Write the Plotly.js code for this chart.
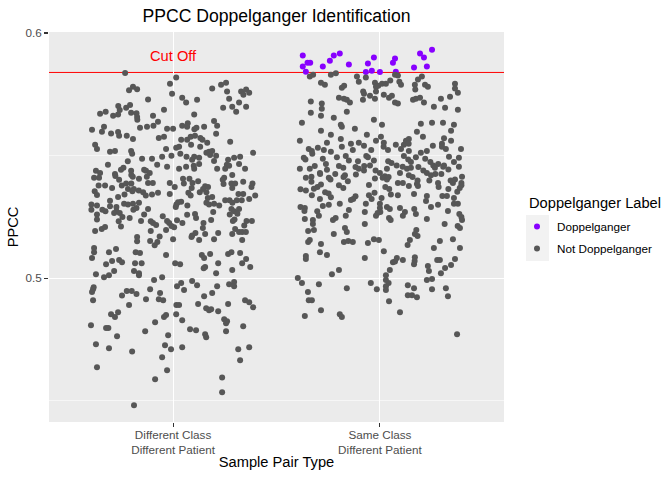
<!DOCTYPE html>
<html><head><meta charset="utf-8">
<script src="https://cdn.plot.ly/plotly-3.0.1.min.js"></script>
<style>html,body{margin:0;padding:0;background:#fff}</style>
</head><body><div id="chart" style="width:672px;height:480px"></div>
<script>
// categories and labels
const categories = ["Different Class<br>Different Patient", "Same Class<br>Different Patient"];
const categoryPositions = [1, 2];
const seriesNames = ["Doppelganger", "Not Doppelganger"];
const yTickValues = [0.5, 0.6];
const yTickLabels = ["0.5", "0.6"];
const cutOff = 0.5839;

// [jittered x position, PPCC]
const diffClassNotDoppel = [
[0.768,0.5837],[1.015,0.5818],[0.985,0.5793],[0.806,0.5781],[0.787,0.5766],[0.826,0.5770],[0.995,0.5752],[0.879,0.5729],[1.044,0.5736],[1.063,0.5716],
[1.116,0.5728],[1.189,0.5773],[1.232,0.5789],[1.256,0.5797],[1.261,0.5761],[1.329,0.5761],[1.340,0.5748],[1.353,0.5769],[1.368,0.5756],[1.271,0.5732],
[1.242,0.5695],[1.286,0.5699],[1.319,0.5716],[1.353,0.5699],[1.305,0.5679],[0.735,0.5702],[0.742,0.5686],[0.773,0.5695],[0.792,0.5706],[0.674,0.5679],
[0.647,0.5671],[0.710,0.5662],[0.734,0.5667],[0.797,0.5675],[0.823,0.5673],[0.826,0.5657],[0.827,0.5646],[0.956,0.5687],[0.903,0.5662],[1.102,0.5667],
[1.198,0.5641],[1.213,0.5622],[0.608,0.5605],[0.666,0.5617],[0.656,0.5597],[0.700,0.5590],[0.734,0.5596],[0.739,0.5581],[0.776,0.5581],[0.806,0.5568],
[0.840,0.5613],[0.874,0.5617],[0.905,0.5622],[0.927,0.5638],[0.971,0.5609],[1.000,0.5609],[1.044,0.5622],[1.071,0.5632],[1.068,0.5617],[1.103,0.5607],
[1.113,0.5613],[1.150,0.5617],[1.208,0.5589],[0.931,0.5572],[0.956,0.5577],[1.039,0.5564],[1.068,0.5564],[1.085,0.5577],[1.106,0.5581],[1.132,0.5572],
[1.142,0.5564],[1.165,0.5552],[1.276,0.5556],[0.623,0.5544],[0.632,0.5527],[0.695,0.5515],[0.719,0.5519],[0.797,0.5519],[0.802,0.5507],[0.966,0.5527],
[1.015,0.5532],[1.029,0.5536],[1.087,0.5544],[1.131,0.5536],[1.174,0.5515],[1.161,0.5511],[1.189,0.5519],[1.179,0.5502],[1.208,0.5499],[1.387,0.5511],
[1.324,0.5495],[1.295,0.5491],[1.266,0.5483],[0.947,0.5495],[0.992,0.5499],[1.035,0.5507],[1.065,0.5495],[1.102,0.5495],[1.126,0.5491],[1.092,0.5483],
[1.198,0.5478],[0.850,0.5487],[0.898,0.5487],[0.781,0.5477],[0.685,0.5462],[0.923,0.5462],[0.971,0.5454],[1.126,0.5466],[1.100,0.5458],[1.063,0.5454],
[1.029,0.5446],[1.102,0.5446],[1.213,0.5446],[1.260,0.5462],[1.271,0.5458],[1.252,0.5446],[1.319,0.5466],[1.348,0.5446],[0.760,0.5450],[0.748,0.5442],
[0.797,0.5438],[0.860,0.5442],[0.869,0.5438],[0.627,0.5438],[0.647,0.5429],[0.719,0.5425],[0.721,0.5417],[0.798,0.5421],[0.805,0.5413],[0.835,0.5405],
[0.887,0.5429],[0.618,0.5409],[0.642,0.5409],[0.739,0.5401],[0.873,0.5413],[1.048,0.5405],[1.079,0.5405],[1.247,0.5409],[1.240,0.5401],[1.286,0.5421],
[0.640,0.5378],[0.671,0.5378],[0.705,0.5368],[0.752,0.5378],[0.773,0.5386],[0.798,0.5386],[0.782,0.5364],[0.810,0.5364],[0.879,0.5388],[0.902,0.5388],
[0.984,0.5388],[1.008,0.5372],[1.052,0.5386],[1.094,0.5388],[1.121,0.5395],[1.090,0.5368],[1.155,0.5375],[1.145,0.5364],[1.169,0.5372],[1.244,0.5384],
[1.282,0.5386],[1.300,0.5386],[1.339,0.5393],[1.384,0.5386],[1.379,0.5372],[1.286,0.5368],[0.621,0.5354],[0.632,0.5339],[0.734,0.5331],[0.765,0.5341],
[0.803,0.5354],[0.834,0.5357],[0.855,0.5350],[0.868,0.5337],[0.898,0.5341],[0.927,0.5348],[0.984,0.5343],[1.074,0.5348],[1.085,0.5337],[1.129,0.5350],
[1.161,0.5350],[1.189,0.5331],[1.168,0.5327],[1.161,0.5307],[1.198,0.5303],[1.252,0.5318],[1.273,0.5318],[1.287,0.5307],[1.308,0.5318],[1.332,0.5318],
[1.316,0.5343],[1.339,0.5343],[1.368,0.5323],[1.397,0.5337],[0.605,0.5300],[0.605,0.5279],[0.632,0.5296],[0.658,0.5279],[0.673,0.5273],[0.695,0.5316],
[0.695,0.5293],[0.726,0.5290],[0.726,0.5273],[0.763,0.5303],[0.782,0.5300],[0.806,0.5303],[0.808,0.5279],[0.835,0.5307],[0.823,0.5286],[0.879,0.5282],
[1.016,0.5300],[1.024,0.5309],[1.039,0.5311],[1.069,0.5296],[1.013,0.5290],[1.174,0.5300],[1.223,0.5296],[1.282,0.5282],[1.295,0.5273],[1.319,0.5282],
[1.311,0.5263],[0.632,0.5259],[0.632,0.5239],[0.715,0.5266],[0.742,0.5266],[0.755,0.5249],[0.790,0.5245],[0.737,0.5232],[0.748,0.5211],[0.860,0.5259],
[0.845,0.5233],[0.892,0.5232],[0.903,0.5225],[0.918,0.5217],[0.950,0.5252],[0.971,0.5233],[0.981,0.5225],[1.019,0.5236],[1.045,0.5225],[1.068,0.5258],
[1.106,0.5262],[1.111,0.5245],[1.184,0.5237],[1.194,0.5270],[1.274,0.5259],[1.289,0.5233],[1.297,0.5239],[1.355,0.5233],[1.381,0.5233],[1.344,0.5215],
[1.147,0.5225],[1.144,0.5204],[1.005,0.5207],[0.992,0.5213],[0.623,0.5192],[0.655,0.5200],[0.671,0.5209],[0.826,0.5168],[0.826,0.5150],[0.892,0.5192],
[0.966,0.5196],[0.889,0.5151],[0.911,0.5134],[0.924,0.5147],[0.935,0.5170],[1.000,0.5159],[1.092,0.5174],[1.089,0.5168],[1.108,0.5184],[1.155,0.5180],
[1.126,0.5155],[1.198,0.5159],[1.218,0.5184],[1.286,0.5180],[1.300,0.5200],[1.319,0.5188],[1.334,0.5188],[1.352,0.5188],[1.334,0.5155],[0.618,0.5123],
[0.618,0.5106],[0.608,0.5082],[0.690,0.5106],[0.724,0.5119],[0.676,0.5057],[0.705,0.5070],[0.739,0.5074],[0.753,0.5065],[0.819,0.5106],[0.840,0.5102],
[0.816,0.5061],[0.848,0.5061],[0.966,0.5094],[1.010,0.5061],[1.034,0.5057],[1.139,0.5094],[1.150,0.5082],[1.179,0.5098],[1.218,0.5061],[1.266,0.5098],
[1.282,0.5106],[1.324,0.5102],[1.353,0.5078],[1.334,0.5061],[1.373,0.5045],[0.627,0.5016],[0.666,0.5004],[0.690,0.5012],[0.715,0.5029],[0.811,0.5029],
[0.835,0.5020],[0.835,0.5012],[0.908,0.4992],[0.947,0.5004],[1.155,0.5045],[1.148,0.5040],[1.208,0.5020],[1.286,0.5033],[0.616,0.4963],[0.613,0.4955],
[0.608,0.4943],[0.776,0.4947],[0.800,0.4947],[0.823,0.4935],[0.889,0.4955],[0.937,0.4939],[1.019,0.4967],[1.039,0.4980],[1.053,0.4951],[1.092,0.4988],
[1.116,0.4971],[1.213,0.4967],[1.271,0.4975],[1.295,0.4984],[1.295,0.4967],[1.189,0.4939],
[0.613,0.4910],[0.753,0.4929],[0.869,0.4914],[0.931,0.4914],[0.952,0.4910],[1.150,0.4926],[1.348,0.4910],[1.368,0.4902],[1.387,0.4881],[0.787,0.4890],
[1.016,0.4890],[1.029,0.4890],[1.121,0.4894],[1.160,0.4877],[1.174,0.4869],[1.184,0.4873],[1.218,0.4865],[1.266,0.4894],[0.700,0.4853],[0.719,0.4841],
[0.734,0.4861],[0.956,0.4841],[0.966,0.4849],[1.015,0.4853],[1.044,0.4828],[0.913,0.4820],[0.603,0.4808],[0.676,0.4796],[0.687,0.4796],[0.729,0.4763],
[0.865,0.4783],[0.976,0.4767],[1.082,0.4791],[1.111,0.4787],[1.155,0.4771],[1.160,0.4759],[1.247,0.4832],[1.261,0.4824],[1.256,0.4816],[1.256,0.4783],
[1.339,0.4804],[0.627,0.4730],[0.690,0.4714],[0.802,0.4701],[0.961,0.4726],[0.990,0.4710],[1.044,0.4718],[1.315,0.4710],[1.368,0.4718],[0.947,0.4677],
[1.324,0.4665],[0.632,0.4636],[0.971,0.4624],[0.913,0.4587],[1.237,0.4595],[1.237,0.4534],[0.811,0.4481]
];

const sameClassNotDoppel = [
[1.661,0.5822],[1.677,0.5830],[1.763,0.5830],[1.787,0.5836],[1.889,0.5822],[1.898,0.5801],[1.932,0.5818],[1.715,0.5797],[1.734,0.5789],[1.816,0.5777],
[1.827,0.5785],[1.976,0.5797],[1.981,0.5781],[1.992,0.5785],[2.010,0.5793],[2.029,0.5793],[2.050,0.5806],[2.073,0.5830],[2.087,0.5827],[2.094,0.5801],
[2.102,0.5789],[2.169,0.5789],[2.171,0.5769],[2.184,0.5810],[2.203,0.5822],[2.218,0.5789],[2.232,0.5781],[2.363,0.5793],[2.363,0.5773],[2.377,0.5756],
[1.919,0.5761],[1.923,0.5752],[1.981,0.5761],[1.952,0.5744],[1.918,0.5728],[1.976,0.5732],[2.019,0.5748],[2.044,0.5736],[2.058,0.5744],[2.073,0.5716],
[2.087,0.5712],[2.160,0.5728],[2.174,0.5732],[2.194,0.5736],[2.213,0.5716],[2.295,0.5732],[2.339,0.5740],[1.666,0.5720],[1.719,0.5712],[1.719,0.5691],
[1.802,0.5736],[1.826,0.5732],[1.840,0.5728],[1.855,0.5716],[1.666,0.5675],[1.715,0.5662],[1.777,0.5654],[1.840,0.5679],[2.261,0.5699],[2.315,0.5695],
[2.377,0.5687],[1.623,0.5634],[1.811,0.5626],[1.816,0.5617],[1.971,0.5646],[2.010,0.5626],[1.879,0.5609],[1.715,0.5601],[1.763,0.5585],[1.937,0.5585],
[2.005,0.5577],[2.198,0.5630],[2.252,0.5634],[2.305,0.5634],[2.358,0.5626],[2.179,0.5597],[2.208,0.5577],[2.344,0.5601],[2.310,0.5571],[1.613,0.5560],
[1.744,0.5552],[1.811,0.5568],[1.860,0.5548],[1.898,0.5552],[1.923,0.5540],[1.981,0.5560],[2.019,0.5552],[2.018,0.5536],[2.039,0.5523],[2.077,0.5544],
[2.102,0.5527],[2.116,0.5544],[2.126,0.5560],[2.140,0.5568],[2.139,0.5548],[2.140,0.5519],[2.256,0.5540],[2.300,0.5548],[2.300,0.5536],[2.319,0.5527],
[2.344,0.5560],[2.392,0.5527],[1.656,0.5527],[1.671,0.5519],[1.673,0.5507],[1.700,0.5532],[1.729,0.5523],[1.763,0.5515],[1.816,0.5536],[1.869,0.5523],
[1.958,0.5523],[2.198,0.5511],[2.227,0.5519],
[1.632,0.5491],[1.640,0.5484],[1.724,0.5487],[1.792,0.5493],[1.835,0.5498],[1.850,0.5480],[1.894,0.5477],[1.934,0.5498],[1.942,0.5493],[1.971,0.5480],
[2.040,0.5477],[2.056,0.5470],[2.116,0.5498],[2.137,0.5484],[2.150,0.5474],[2.174,0.5493],[2.219,0.5487],[2.244,0.5474],[2.258,0.5459],[2.282,0.5466],
[2.310,0.5459],[2.334,0.5495],[2.382,0.5491],[2.358,0.5474],[1.613,0.5446],[1.661,0.5446],[1.685,0.5457],[1.710,0.5429],[1.739,0.5466],[1.744,0.5442],
[1.784,0.5425],[1.802,0.5457],[1.823,0.5450],[1.831,0.5420],[1.882,0.5453],[1.898,0.5446],[1.884,0.5423],[1.924,0.5457],[1.952,0.5459],[1.923,0.5439],
[1.979,0.5439],[2.000,0.5429],[2.024,0.5416],[2.034,0.5446],[2.081,0.5459],[2.110,0.5454],[2.097,0.5429],[2.131,0.5446],[2.150,0.5450],[2.186,0.5453],
[2.210,0.5439],[2.227,0.5429],[2.266,0.5450],[2.306,0.5454],[2.331,0.5443],[2.382,0.5454],[1.642,0.5409],[1.669,0.5413],[1.669,0.5393],[1.711,0.5425],
[1.753,0.5409],[1.761,0.5402],[1.824,0.5412],[1.845,0.5395],[1.976,0.5406],[2.013,0.5409],[2.034,0.5402],[2.042,0.5412],[2.087,0.5388],[2.111,0.5388],
[2.140,0.5420],[2.158,0.5412],[2.182,0.5398],[2.179,0.5384],[2.239,0.5398],[2.247,0.5420],[2.268,0.5425],[2.297,0.5425],[2.281,0.5388],[2.284,0.5372],
[2.342,0.5398],[2.353,0.5388],[2.363,0.5402],[2.397,0.5413],[2.394,0.5388],[1.616,0.5363],[1.642,0.5357],[1.681,0.5365],[1.698,0.5372],[1.715,0.5382],
[1.671,0.5338],[1.710,0.5323],[1.735,0.5350],[1.752,0.5345],[1.763,0.5330],[1.802,0.5379],[1.823,0.5368],[1.947,0.5380],[1.947,0.5338],[1.960,0.5323],
[1.974,0.5348],[2.008,0.5327],[2.026,0.5372],[2.045,0.5364],[2.053,0.5341],[2.087,0.5338],[2.140,0.5376],[2.165,0.5343],[2.184,0.5376],[2.227,0.5335],
[2.223,0.5315],[2.302,0.5335],[2.324,0.5335],[2.358,0.5327],[2.374,0.5352],[2.386,0.5368],[2.394,0.5379],[2.331,0.5364],[1.616,0.5290],[1.637,0.5286],
[1.635,0.5274],[1.697,0.5273],[1.724,0.5294],[1.753,0.5299],[1.806,0.5303],[1.850,0.5278],[1.860,0.5319],[1.882,0.5334],[1.871,0.5323],[1.932,0.5303],
[1.927,0.5270],[2.000,0.5303],[2.000,0.5286],[2.002,0.5270],[2.034,0.5290],[2.048,0.5282],[2.097,0.5286],[2.121,0.5270],[2.111,0.5254],[2.166,0.5282],
[2.247,0.5290],[2.281,0.5299],[2.358,0.5303],[2.377,0.5303],[2.329,0.5274],[2.384,0.5262],[2.394,0.5249],[2.397,0.5237],[1.637,0.5241],[1.676,0.5237],
[1.676,0.5221],[1.705,0.5254],[1.773,0.5237],[1.786,0.5245],[1.835,0.5254],[1.981,0.5254],[1.989,0.5266],[2.044,0.5245],[2.052,0.5237],[2.174,0.5262],
[2.227,0.5241],[1.927,0.5221],[1.653,0.5192],[1.681,0.5196],[1.777,0.5180],[1.831,0.5204],[1.840,0.5188],[2.176,0.5196],[2.169,0.5180],[2.182,0.5172],
[2.313,0.5221],[2.376,0.5213],[2.387,0.5204],[1.653,0.5147],[1.661,0.5155],[1.715,0.5139],[1.826,0.5147],[1.847,0.5151],[1.869,0.5147],[1.942,0.5143],
[1.971,0.5159],[1.995,0.5155],[2.145,0.5155],[2.134,0.5135],[2.290,0.5151],[2.353,0.5159],[2.261,0.5123],[2.387,0.5123],[1.710,0.5106],[1.744,0.5094],
[1.642,0.5090],[1.642,0.5078],[1.927,0.5082],[2.019,0.5110],[2.063,0.5065],[2.082,0.5082],[2.073,0.5068],[2.111,0.5074],[2.169,0.5085],[2.165,0.5057],
[2.168,0.5070],[2.277,0.5074],[2.290,0.5074],[2.363,0.5078],[2.344,0.5053],
[1.802,0.5033],[1.768,0.5016],[1.603,0.5000],[1.623,0.4980],[1.705,0.4975],[1.652,0.4943],[1.656,0.4910],[1.671,0.4910],[1.715,0.4869],[1.637,0.4845],
[1.806,0.4853],[1.816,0.4841],[1.840,0.4959],[1.956,0.4980],[1.985,0.4955],[2.048,0.5033],[2.029,0.5012],[2.029,0.4992],[2.042,0.4980],[2.029,0.4967],
[2.029,0.4951],[2.044,0.4906],[2.097,0.4861],[2.135,0.4971],[2.165,0.4959],[2.135,0.4930],[2.155,0.4930],[2.179,0.4922],[2.227,0.4992],[2.252,0.4996],
[2.252,0.4955],[2.232,0.5049],[2.237,0.5029],[2.295,0.5020],[2.315,0.5041],[2.319,0.4959],[2.329,0.4926],[2.373,0.4771]
];

const sameClassDoppel = [
[1.627,0.5908],[1.627,0.5863],[1.642,0.5842],[1.650,0.5879],[1.663,0.5879],[1.724,0.5863],[1.758,0.5887],[1.777,0.5908],[1.806,0.5916],[1.850,0.5871],
[1.932,0.5841],[1.942,0.5875],[1.961,0.5846],[1.971,0.5900],[2.000,0.5841],[2.063,0.5879],[2.073,0.5896],[2.077,0.5842],[2.165,0.5859],[2.194,0.5916],
[2.213,0.5900],[2.227,0.5863],[2.252,0.5932]
];

const FONT = "'Liberation Sans', Arial, sans-serif";
const notDoppel = diffClassNotDoppel.concat(sameClassNotDoppel);

const traces = [
  {type:'scatter', mode:'markers', name:seriesNames[0], legendgroup:'a',
   x:sameClassDoppel.map(p=>p[0]), y:sameClassDoppel.map(p=>p[1]),
   marker:{color:'#8800FF', size:6}, hoverinfo:'skip'},
  {type:'scatter', mode:'markers', name:seriesNames[1], legendgroup:'b',
   x:notDoppel.map(p=>p[0]), y:notDoppel.map(p=>p[1]),
   marker:{color:'#575757', size:6}, hoverinfo:'skip'}
];

const PL = 49, PR = 504, PT = 32, PB = 422;
const px2x = v => (v - PL) / (PR - PL);
const py2y = v => 1 - (v - PT) / (PB - PT);

const layout = {
  width:672, height:480,
  margin:{l:PL, r:672-PR, t:PT, b:480-PB, pad:0},
  paper_bgcolor:'#FFFFFF', plot_bgcolor:'#EBEBEB',
  font:{family:FONT, color:'#000000'},
  title:{text:'PPCC Doppelganger Identification', font:{family:FONT, size:17.6, color:'#000000'},
         x:0.5, xref:'paper', xanchor:'center', y:1-16/480, yref:'container', yanchor:'middle'},
  xaxis:{range:[0.4,2.6], tickmode:'array', tickvals:categoryPositions, ticktext:categories,
         showgrid:true, gridcolor:'#FFFFFF', gridwidth:1.1, zeroline:false, showline:false,
         ticks:'outside', ticklen:4, tickwidth:1.1, tickcolor:'#333333', ticklabelstandoff:-2,
         tickfont:{family:FONT, size:11.7, color:'#4D4D4D'},
         automargin:true,
         title:{text:'Sample Pair Type', standoff:1, font:{family:FONT, size:14.67, color:'#000000'}},
         fixedrange:true},
  yaxis:{range:[0.4413,0.6004], tickmode:'array', tickvals:yTickValues, ticktext:yTickLabels,
         showgrid:true, gridcolor:'#FFFFFF', gridwidth:1.1, zeroline:false, showline:false,
         minor:{tickmode:'array', tickvals:[0.45,0.55], showgrid:true, gridcolor:'#FFFFFF', gridwidth:0.55, ticks:''},
         ticks:'outside', ticklen:4, tickwidth:1.1, tickcolor:'#333333',
         tickfont:{family:FONT, size:11.7, color:'#4D4D4D'},
         automargin:true,
         title:{text:'PPCC', standoff:3, font:{family:FONT, size:14.67, color:'#000000'}},
         fixedrange:true},
  showlegend:true,
  legend:{x:px2x(517), xanchor:'left', y:py2y(212), yanchor:'top', bgcolor:'rgba(0,0,0,0)',
          borderwidth:0, font:{family:FONT, size:11.7, color:'#000000'},
          traceorder:'grouped', tracegroupgap:3, itemsizing:'trace'},
  shapes:[
    {type:'rect', xref:'paper', yref:'paper', x0:px2x(526), x1:px2x(549), y0:py2y(261), y1:py2y(215),
     fillcolor:'#F2F2F2', line:{width:0}, layer:'below'},
    {type:'line', xref:'x domain', yref:'y', x0:0, x1:1, y0:cutOff, y1:cutOff,
     line:{color:'#FF0000', width:1}, layer:'below'}
  ],
  annotations:[
    {text:'Cut Off', xref:'x', yref:'y', x:1, y:0.5906, showarrow:false,
     font:{family:FONT, size:14.67, color:'#FF0000'}, xanchor:'center', yanchor:'middle'},
    {text:'Doppelganger Label', xref:'paper', yref:'paper', x:px2x(527), y:py2y(203), showarrow:false,
     font:{family:FONT, size:14.67, color:'#000000'}, xanchor:'left', yanchor:'middle'}
  ]
};

Plotly.newPlot('chart', traces, layout, {staticPlot:true, displayModeBar:false});
</script>
</body></html>
